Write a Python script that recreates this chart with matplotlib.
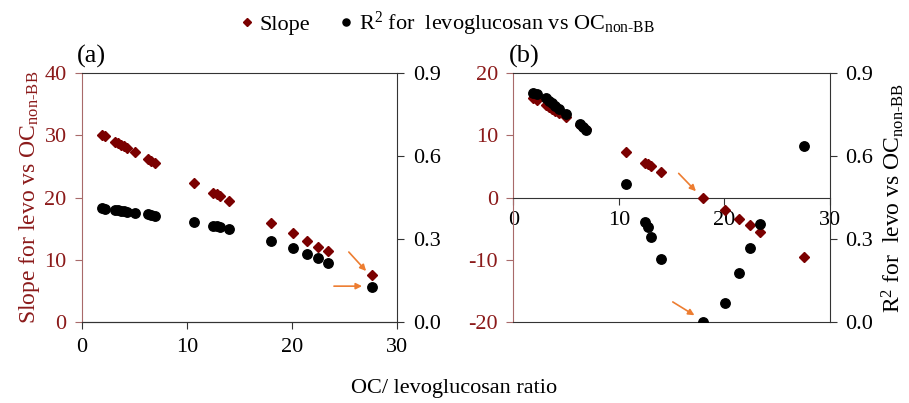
import matplotlib
matplotlib.use("Agg")
import matplotlib.pyplot as plt

# --- Data ---
ratio = [1.9, 2.2, 3.1, 3.4, 3.7, 4.0, 4.3, 5.0, 6.3, 6.6, 6.9,
         10.7, 12.5, 12.8, 13.1, 14.0, 18.0, 20.1, 21.4, 22.4, 23.4, 27.6]

slope_a = [30.0, 29.8, 28.9, 28.7, 28.5, 28.3, 28.0, 27.3, 26.2, 25.9, 25.6,
           22.3, 20.8, 20.6, 20.3, 19.4, 16.0, 14.4, 13.0, 12.1, 11.4, 7.6]
r2_a = [0.412, 0.410, 0.406, 0.404, 0.402, 0.400, 0.398, 0.396, 0.390, 0.388, 0.385,
        0.363, 0.348, 0.346, 0.343, 0.335, 0.293, 0.267, 0.247, 0.231, 0.213, 0.128]

slope_b = [16.0, 15.7, 14.9, 14.6, 14.2, 13.9, 13.6, 13.0, 11.7, 11.3, 11.0,
           7.3, 5.6, 5.35, 5.0, 4.05, 0.0, -1.95, -3.4, -4.4, -5.5, -9.6]
r2_b = [0.827, 0.822, 0.810, 0.800, 0.790, 0.780, 0.770, 0.752, 0.715, 0.705, 0.695,
        0.500, 0.362, 0.344, 0.309, 0.230, 0.000, 0.070, 0.178, 0.268, 0.354, 0.635]

x_ticks = [0, 10, 20, 30]
slope_ticks_a = [0, 10, 20, 30, 40]
slope_ticks_b = [-20, -10, 0, 10, 20]
r2_ticks = [0.0, 0.3, 0.6, 0.9]

# --- Style ---
plt.rcParams['font.family'] = ['Liberation Serif', 'DejaVu Serif']
plt.rcParams['mathtext.fontset'] = 'custom'
plt.rcParams['mathtext.rm'] = 'Liberation Serif'
plt.rcParams['mathtext.it'] = 'Liberation Serif:italic'
plt.rcParams['mathtext.bf'] = 'Liberation Serif:bold'
plt.rcParams['mathtext.sf'] = 'Liberation Serif'
plt.rcParams['mathtext.default'] = 'regular'
plt.rcParams['axes.unicode_minus'] = False

red = '#7b0000'
red_txt = '#8b1a1a'
red_spine = '#a86a6a'
orange = '#ed7d31'
dark = '#333333'
fs = 16

sub = r'$_{\mathrm{non\text{-}BB}}$'

fig = plt.figure(figsize=(9.09, 4.03), dpi=100)
ax_a = fig.add_axes([0.0902, 0.2002, 0.347, 0.619])
ax_b = fig.add_axes([0.5647, 0.2002, 0.348, 0.619])


def setup(ax, slope, r2, yticks):
    ax2 = ax.twinx()
    ax.plot(ratio, slope, 'D', color=red, markersize=5.0, label='Slope', zorder=3)
    ax2.plot(ratio, r2, 'o', color='black', markersize=6.8,
             label='R$^2$ for  levoglucosan vs OC' + sub, zorder=3)

    ax.set_xlim(0, 30)
    ax.set_ylim(yticks[0], yticks[-1])
    ax2.set_ylim(0, 0.9)
    ax.set_xticks(x_ticks)
    ax.set_yticks(yticks)
    ax2.set_yticks(r2_ticks)
    ax2.set_yticklabels(['%.1f' % v for v in r2_ticks])

    ax.tick_params(axis='y', colors=red_spine, labelcolor=red_txt, labelsize=fs,
                   direction='out', length=5, pad=6)
    ax.tick_params(axis='x', colors=dark, labelcolor='black', labelsize=fs,
                   direction='out', length=5, pad=6)
    ax2.tick_params(axis='y', colors=dark, labelcolor='black', labelsize=fs,
                    direction='out', length=5, pad=6)

    for s in ['top', 'right']:
        ax.spines[s].set_visible(False)
    ax.spines['left'].set_color(red_spine)
    ax.spines['bottom'].set_color(dark)
    ax2.spines['left'].set_visible(False)
    ax2.spines['top'].set_color(dark)
    ax2.spines['right'].set_color(dark)
    ax2.spines['bottom'].set_color(dark)
    return ax2


ax2_a = setup(ax_a, slope_a, r2_a, slope_ticks_a)
ax2_b = setup(ax_b, slope_b, r2_b, slope_ticks_b)

# panel (b): x axis crosses at zero
ax_b.spines['bottom'].set_position(('data', 0))
ax_b.tick_params(axis='x', pad=5)

ax_a.set_ylabel('Slope for levo vs OC' + sub, color=red_txt, fontsize=17, labelpad=2)
ax2_b.set_ylabel('R$^2$ for  levo vs OC' + sub, color='black', fontsize=17, labelpad=5)

ax_a.text(-0.015, 1.02, '(a)', transform=ax_a.transAxes, fontsize=19, ha='left', va='bottom')
ax_b.text(-0.015, 1.02, '(b)', transform=ax_b.transAxes, fontsize=19, ha='left', va='bottom')

fig.text(0.5, 0.012, 'OC/ levoglucosan ratio', ha='center', va='bottom', fontsize=fs)

# arrows marking the flagged points
arrow = dict(arrowstyle='-|>', color=orange, lw=1.2, mutation_scale=9)
ax_a.annotate('', xy=(27.2, 7.9), xytext=(25.2, 11.6), arrowprops=arrow)
ax_a.annotate('', xy=(26.9, 5.8), xytext=(23.7, 5.8), arrowprops=arrow)
ax_b.annotate('', xy=(17.5, 0.7), xytext=(15.5, 4.2), arrowprops=arrow)
ax_b.annotate('', xy=(17.4, -19.1), xytext=(14.9, -16.5), arrowprops=arrow)

h1, l1 = ax_a.get_legend_handles_labels()
h2, l2 = ax2_a.get_legend_handles_labels()
fig.legend(h1 + h2, l1 + l2, loc='upper center', bbox_to_anchor=(0.49, 1.025), ncol=2,
           frameon=False, fontsize=fs, handletextpad=0.1, columnspacing=1.1,
           handlelength=1.0, markerscale=0.75)

fig.savefig('out.png', dpi=100)
